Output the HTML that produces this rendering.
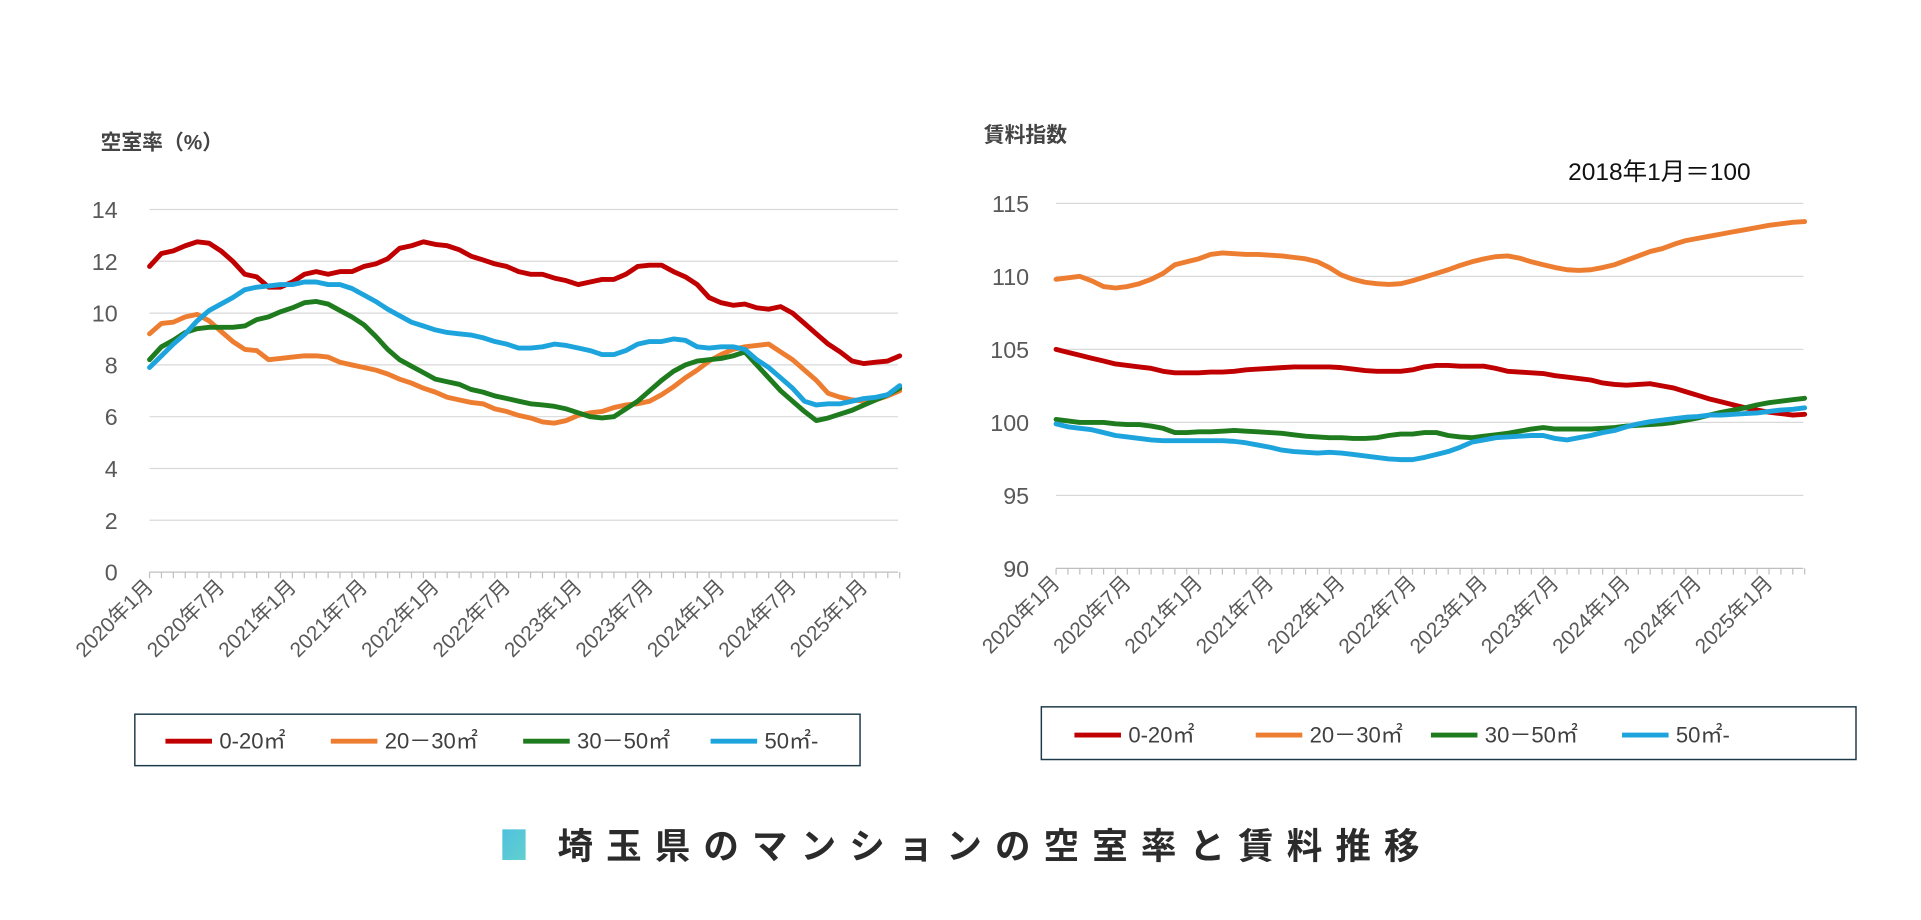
<!DOCTYPE html>
<html><head><meta charset="utf-8"><style>
html,body{margin:0;padding:0;background:#fff;}
svg{display:block;font-family:"Liberation Sans","Noto Sans CJK JP",sans-serif;}
</style></head><body>
<svg id="svg" width="1921" height="920" viewBox="0 0 1568 751">
<defs><linearGradient id="tg" x1="0" x2="1" y1="0" y2="1"><stop offset="0" stop-color="#4fc0de"/><stop offset="1" stop-color="#62d0cf"/></linearGradient></defs>
<text x="82" y="122" font-size="17" font-weight="bold" fill="#444">空室率（%）</text>
<text x="803" y="116" font-size="17" font-weight="bold" fill="#444">賃料指数</text>
<text x="1280" y="147" font-size="20" fill="#111">2018年1月＝100</text>
<g id="left"></g>
<g id="right"></g>
<rect x="110" y="583" width="592" height="42" fill="#fff" stroke="#1d3a4a" stroke-width="1.2"/>
<rect x="850" y="577" width="665" height="43" fill="#fff" stroke="#1d3a4a" stroke-width="1.2"/>
<g id="legends"></g>
<rect x="410" y="677" width="19" height="25" fill="url(#tg)"/>
<text x="455" y="701" font-size="29" font-weight="bold" fill="#2b2b2b" letter-spacing="10.7">埼玉県のマンションの空室率と賃料推移</text>
</svg>
<script>
const xLabels = ["2020年1月","2020年7月","2021年1月","2021年7月","2022年1月","2022年7月","2023年1月","2023年7月","2024年1月","2024年7月","2025年1月"];
const seriesNames = ["0-20㎡","20－30㎡","30－50㎡","50㎡-"];
const colors = ["#c00000","#ed7d31","#1e7b1e","#1ea4dc"];
const leftTicks = [0,2,4,6,8,10,12,14];
const rightTicks = [90,95,100,105,110,115];
const vacRed = [11.8,12.3,12.4,12.6,12.75,12.7,12.4,12.0,11.5,11.4,11.0,11.0,11.2,11.5,11.6,11.5,11.6,11.6,11.8,11.9,12.1,12.5,12.6,12.75,12.65,12.6,12.45,12.2,12.05,11.9,11.8,11.6,11.5,11.5,11.35,11.25,11.1,11.2,11.3,11.3,11.5,11.8,11.85,11.85,11.6,11.4,11.1,10.6,10.4,10.3,10.35,10.2,10.15,10.25,10.0,9.6,9.2,8.8,8.5,8.15,8.05,8.1,8.15,8.35];
const vacOrange = [9.2,9.6,9.65,9.85,9.95,9.7,9.3,8.9,8.6,8.55,8.2,8.25,8.3,8.35,8.35,8.3,8.1,8.0,7.9,7.8,7.65,7.45,7.3,7.1,6.95,6.75,6.65,6.55,6.5,6.3,6.2,6.05,5.95,5.8,5.75,5.85,6.05,6.15,6.2,6.35,6.45,6.5,6.6,6.85,7.15,7.5,7.8,8.15,8.4,8.6,8.7,8.75,8.8,8.5,8.2,7.8,7.4,6.9,6.75,6.65,6.6,6.65,6.8,7.0];
const vacGreen = [8.2,8.7,8.95,9.25,9.4,9.45,9.45,9.45,9.5,9.75,9.85,10.05,10.2,10.4,10.45,10.35,10.1,9.85,9.55,9.1,8.6,8.2,7.95,7.7,7.45,7.35,7.25,7.05,6.95,6.8,6.7,6.6,6.5,6.45,6.4,6.3,6.15,6.0,5.95,6.0,6.3,6.6,7.0,7.4,7.75,8.0,8.15,8.2,8.25,8.35,8.5,8.0,7.5,7.0,6.6,6.2,5.85,5.95,6.1,6.25,6.45,6.65,6.85,7.1];
const vacBlue = [7.9,8.35,8.8,9.2,9.7,10.1,10.35,10.6,10.9,11.0,11.05,11.1,11.1,11.2,11.2,11.1,11.1,10.95,10.7,10.45,10.15,9.9,9.65,9.5,9.35,9.25,9.2,9.15,9.05,8.9,8.8,8.65,8.65,8.7,8.8,8.75,8.65,8.55,8.4,8.4,8.55,8.8,8.9,8.9,9.0,8.95,8.7,8.65,8.7,8.7,8.6,8.2,7.9,7.5,7.1,6.6,6.45,6.5,6.5,6.6,6.7,6.75,6.85,7.2];
const rentRed = [105.0,104.8,104.6,104.4,104.2,104.0,103.9,103.8,103.7,103.5,103.4,103.4,103.4,103.45,103.45,103.5,103.6,103.65,103.7,103.75,103.8,103.8,103.8,103.8,103.75,103.65,103.55,103.5,103.5,103.5,103.6,103.8,103.9,103.9,103.85,103.85,103.85,103.7,103.5,103.45,103.4,103.35,103.2,103.1,103.0,102.9,102.7,102.6,102.55,102.6,102.65,102.5,102.35,102.1,101.85,101.6,101.4,101.2,101.0,100.85,100.7,100.6,100.5,100.55];
const rentOrange = [109.8,109.9,110.0,109.7,109.3,109.2,109.3,109.5,109.8,110.2,110.8,111.0,111.2,111.5,111.6,111.55,111.5,111.5,111.45,111.4,111.3,111.2,111.0,110.6,110.1,109.8,109.6,109.5,109.45,109.5,109.7,109.95,110.2,110.45,110.75,111.0,111.2,111.35,111.4,111.25,111.0,110.8,110.6,110.45,110.4,110.45,110.6,110.8,111.1,111.4,111.7,111.9,112.2,112.45,112.6,112.75,112.9,113.05,113.2,113.35,113.5,113.6,113.7,113.75];
const rentGreen = [100.2,100.1,100.0,100.0,100.0,99.9,99.85,99.85,99.75,99.6,99.3,99.3,99.35,99.35,99.4,99.45,99.4,99.35,99.3,99.25,99.15,99.05,99.0,98.95,98.95,98.9,98.9,98.95,99.1,99.2,99.2,99.3,99.3,99.1,99.0,98.95,99.05,99.15,99.25,99.4,99.55,99.65,99.55,99.55,99.55,99.55,99.6,99.65,99.75,99.8,99.85,99.9,100.0,100.15,100.3,100.5,100.7,100.85,101.0,101.2,101.35,101.45,101.55,101.65];
const rentBlue = [99.9,99.7,99.6,99.5,99.3,99.1,99.0,98.9,98.8,98.75,98.75,98.75,98.75,98.75,98.75,98.7,98.6,98.45,98.3,98.1,98.0,97.95,97.9,97.95,97.9,97.8,97.7,97.6,97.5,97.45,97.45,97.6,97.8,98.0,98.3,98.65,98.8,98.95,99.0,99.05,99.1,99.1,98.9,98.8,98.95,99.1,99.3,99.45,99.7,99.9,100.05,100.15,100.25,100.35,100.4,100.5,100.5,100.55,100.6,100.65,100.75,100.85,100.9,101.0];

const NS="http://www.w3.org/2000/svg";
function mk(tag,attrs,parent){const e=document.createElementNS(NS,tag);for(const k in attrs)e.setAttribute(k,attrs[k]);parent.appendChild(e);return e;}

function drawChart(g,cfg,series,ticks){
  const x=i=>cfg.x0+i*cfg.dx;
  const y=v=>cfg.yb-(v-cfg.vmin)*(cfg.yb-cfg.yt)/(cfg.vmax-cfg.vmin);
  ticks.forEach(t=>{
    const ln=mk('line',{x1:cfg.x0,x2:cfg.x1,y1:y(t),y2:y(t),stroke:t===cfg.vmin?'#bfbfbf':'#d9d9d9','stroke-width':1},g);
    
    
    const tx=mk('text',{x:cfg.lx,y:y(t)+7,'text-anchor':'end','font-size':19,fill:'#595959'},g);
    tx.textContent=t;
    
    
  });
  for(let i=0;i<series[0].length;i++){
    const tk=mk('line',{x1:x(i),x2:x(i),y1:cfg.yb,y2:cfg.yb+5,stroke:'#bfbfbf','stroke-width':1},g);
    
    
  }
  xLabels.forEach((l,k)=>{
    const px=x(k*6)+4, py=cfg.yb+13;
    const tx=mk('text',{x:px,y:py,'text-anchor':'end','font-size':17,fill:'#595959',transform:`rotate(-45 ${px} ${py})`},g);
    tx.textContent=l;
    
    
  });
  series.forEach((s,si)=>{
    const d=s.map((v,i)=>(i?'L':'M')+x(i).toFixed(1)+' '+y(v).toFixed(1)).join(' ');
    const p=mk('path',{d:d,fill:'none',stroke:colors[si],'stroke-width':4,'stroke-linejoin':'round','stroke-linecap':'round'},g);
    
    
  });
}
drawChart(document.getElementById('left'),{x0:122,x1:733,dx:9.72,yb:467,yt:171,vmin:0,vmax:14,lx:96},[vacRed,vacOrange,vacGreen,vacBlue],leftTicks);
drawChart(document.getElementById('right'),{x0:862,x1:1472,dx:9.7,yb:464,yt:166,vmin:90,vmax:115,lx:840},[rentRed,rentOrange,rentGreen,rentBlue],rightTicks);

const lg=document.getElementById('legends');
[[135,605,[135,270,427,580]],[877,600,[877,1025,1168,1324]]].forEach(([,cy,xs])=>{
  xs.forEach((lx,i)=>{
    const l=mk('line',{x1:lx,x2:lx+38,y1:cy,y2:cy,stroke:colors[i],'stroke-width':4},lg);
    
    
    const t=mk('text',{x:lx+44,y:cy+6,'font-size':18,fill:'#404040'},lg);
    t.textContent=seriesNames[i];
    
    
  });
});
</script>
</body></html>
